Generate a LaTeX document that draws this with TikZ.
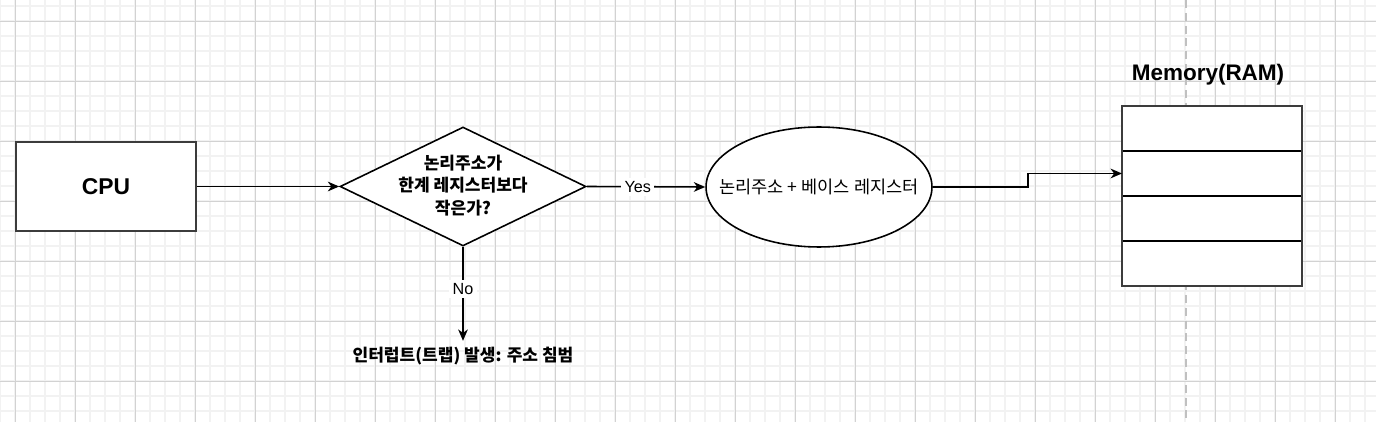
\documentclass[tikz,border=0pt]{standalone}
\usepackage{fontspec}
\setmainfont{Liberation Sans}
\newfontfamily\kr{Noto Sans CJK KR}
\usepackage{tikz}
\usetikzlibrary{fit,positioning}
\usetikzlibrary{shapes,arrows.meta}
\definecolor{gridmajor}{RGB}{210,210,210}
\definecolor{gridminor}{RGB}{242,242,242}
\definecolor{splitline}{RGB}{192,192,192}
\definecolor{boxline}{RGB}{60,60,60}

\begin{document}
\begin{tikzpicture}[x=0.02cm,y=-0.02cm]
\tikzstyle{proc}=[rectangle, minimum width=3.6cm, minimum height=1.78cm, line width=1.1pt, draw=boxline, fill=white]
\tikzstyle{decision}=[diamond, minimum width=4.92cm, minimum height=2.38cm, inner sep=0pt, line width=0.9pt, draw=black, fill=white]
\tikzstyle{calc}=[ellipse, minimum width=4.52cm, minimum height=2.4cm, inner sep=0pt, line width=0.9pt, draw=black, fill=white]
\tikzstyle{cell}=[rectangle, minimum width=3.6cm, minimum height=0.9cm, outer sep=0pt, line width=0.9pt, draw=black, fill=white]
\tikzstyle{frame}=[rectangle, inner sep=0pt, outer sep=0pt, line width=1.5pt, draw=boxline]
\tikzstyle{connect}=[-{Stealth[length=6.5pt,width=5.5pt,inset=2pt]}, line width=0.9pt]
\tikzstyle{edgelabel}=[fill=white, inner sep=2pt, font=\fontsize{9.2}{11}\selectfont]
\tikzstyle{krtext}=[font=\kr\fontsize{10}{13}\selectfont, align=center]
\tikzstyle{krbold}=[font=\kr\bfseries\fontsize{9.7}{12.8}\selectfont, align=center]
\useasboundingbox (0,0) rectangle (1376,422);
% background grid
\foreach \gx in {0,15,...,1375} \draw[gridminor, line width=1pt] (\gx,0) -- (\gx,422);
\foreach \gy in {6,21,...,421} \draw[gridminor, line width=1pt] (0,\gy) -- (1376,\gy);
\foreach \gx in {15,75,...,1375} \draw[gridmajor, line width=0.5pt] (\gx,0) -- (\gx,422);
\foreach \gy in {21,81,...,421} \draw[gridmajor, line width=0.5pt] (0,\gy) -- (1376,\gy);
\draw[splitline, line width=1.1pt, dash pattern=on 4.5pt off 2.8pt] (1186,0) -- (1186,422);

	\node[proc] (cpu) at (106,186.5) {\bfseries\fontsize{13}{15}\selectfont CPU};
	\node[decision] (check) at (463,186.5) {};
	\node[krbold] (checktext) at (463,185.5) {논리주소가\\한계 레지스터보다\\작은가?};
	\node[calc] (addr) at (819,187) {};
	\node[krtext] (addrtext) at (addr) {논리주소 + 베이스 레지스터};
	\node[krbold] (trap) at (463,356) {인터럽트(트랩) 발생: 주소 침범};

	\node[cell] (row1) at (1212,128.5) {};
	\node[cell, below=0pt of row1] (row2) {};
	\node[cell, below=0pt of row2] (row3) {};
	\node[cell, below=0pt of row3] (row4) {};
	\node[frame, fit=(row1)(row4)] (mem) {};
	\node[font=\bfseries\fontsize{12.8}{15}\selectfont] (memtitle) at (1208,75) {Memory(RAM)};

	\draw[connect] (cpu.east) -- (check.west);
	\draw[connect] (check.east) -- node[edgelabel, pos=0.43] {Yes} (addr.west);
	\draw[connect] (check.south) -- node[edgelabel, pos=0.45] {No} (trap.north);
	\draw[connect] (addr.east) -- ++(95,0) |- (row2.west);
\end{tikzpicture}
\end{document}
